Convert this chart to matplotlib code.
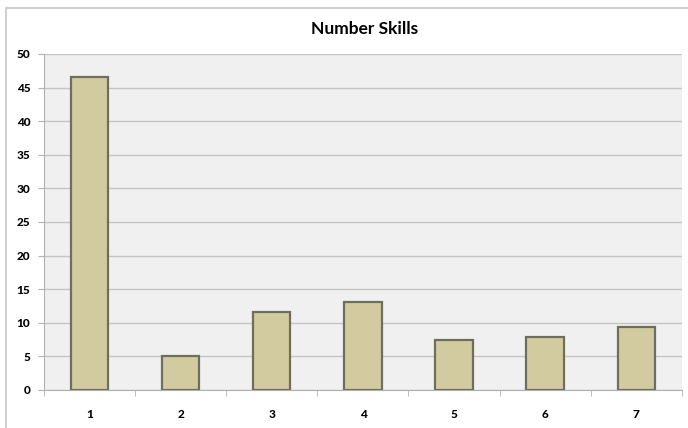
import matplotlib.pyplot as plt
from matplotlib.lines import Line2D
import numpy as np

categories = ["1", "2", "3", "4", "5", "6", "7"]
values = [46.6, 5.0, 11.6, 13.1, 7.5, 7.8, 9.4]
y_ticks = [0, 5, 10, 15, 20, 25, 30, 35, 40, 45, 50]

plt.rcParams['font.family'] = ['Lato', 'DejaVu Sans']

fig = plt.figure(figsize=(6.88, 4.28), dpi=100)
ax = fig.add_axes([0.064, 0.089, 0.927, 0.785])

# outer chart border (only top and left are inside the picture)
fig.lines.append(Line2D([0.008, 0.008, 1.0], [0.0, 0.981, 0.981], transform=fig.transFigure,
                        color="#d0d0d0", linewidth=1.5))

x = np.arange(len(categories))
ax.set_facecolor("#f0f0f0")
ax.bar(x, values, width=0.41, color="#d3cba0", edgecolor="#6e6e5e", linewidth=1.6, zorder=3)

ax.set_xlim(-0.5, len(categories) - 0.5)
ax.set_ylim(0, 50)
ax.set_yticks(y_ticks)
ax.set_yticklabels([str(v) for v in y_ticks], fontsize=8.5, fontweight="black")
ax.set_xticks(x)
ax.set_xticklabels(categories, fontsize=8.5, fontweight="black")
ax.tick_params(axis="x", length=0, pad=14)
ax.set_xticks(np.arange(-0.5, len(categories)), minor=True)
ax.tick_params(axis="x", which="minor", length=4, color="#b0b0b0", direction="out")
ax.tick_params(axis="y", length=4, color="#b0b0b0", pad=6)
ax.grid(axis="y", color="#c4c4c4", linewidth=1, zorder=0)

for side in ["top", "right"]:
    ax.spines[side].set_visible(False)
ax.spines["left"].set_color("#b0b0b0")
ax.spines["bottom"].set_color("#b0b0b0")

fig.text(0.53, 0.932, "Number Skills", ha="center", va="center", fontsize=12.5, fontweight="bold")

fig.savefig("out.png", dpi=100)
